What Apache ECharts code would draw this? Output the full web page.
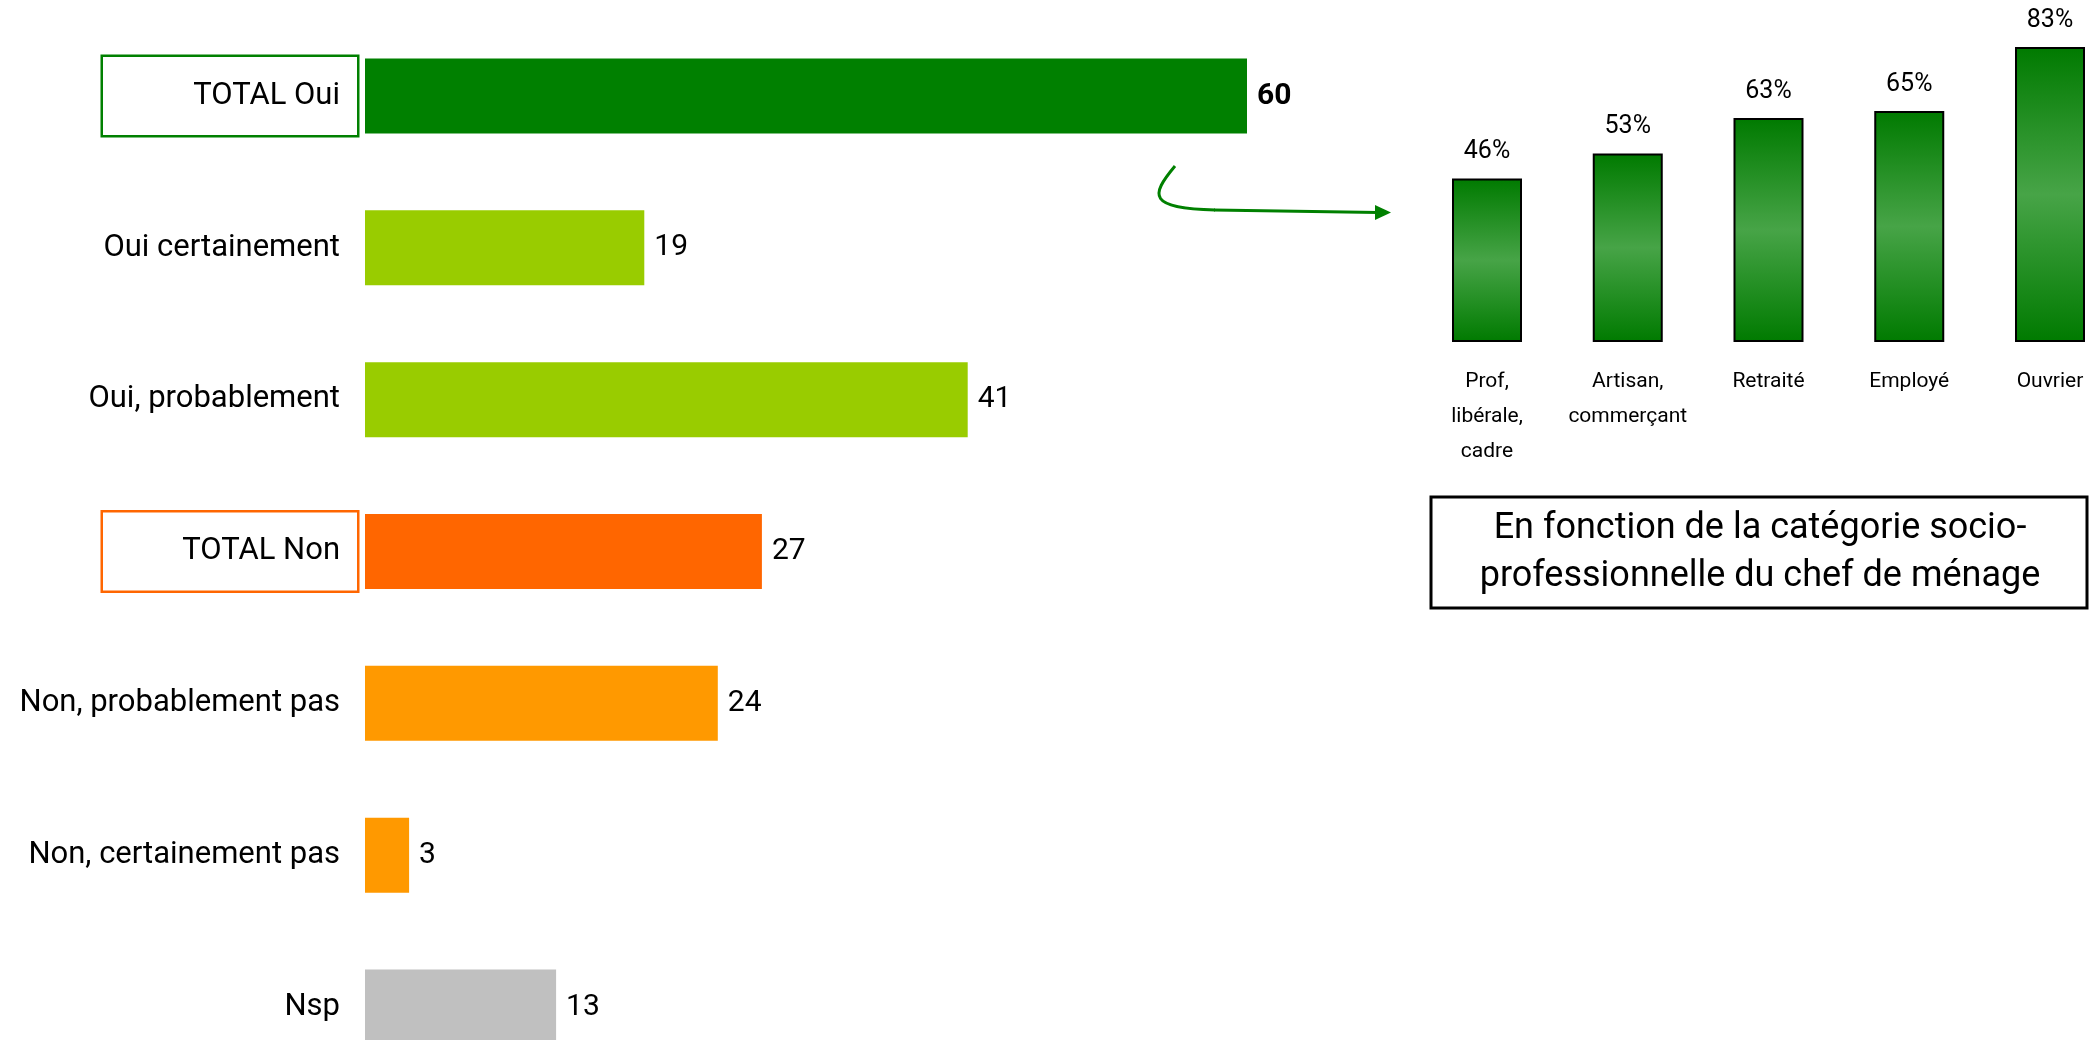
<!DOCTYPE html>
<html>
<head>
<meta charset="utf-8">
<script src="https://cdn.jsdelivr.net/npm/echarts@6/dist/echarts.min.js"></script>
<style>
html,body{margin:0;padding:0;background:#fff;}
#chart{width:2091px;height:1040px;}
</style>
</head>
<body>
<div id="chart"></div>
<script>
// ---- Data ----
var categories = ['TOTAL Oui', 'Oui certainement', 'Oui, probablement', 'TOTAL Non', 'Non, probablement pas', 'Non, certainement pas', 'Nsp'];
var values = [60, 19, 41, 27, 24, 3, 13];
var barColors = ['#008000', '#99CC00', '#99CC00', '#FF6600', '#FF9900', '#FF9900', '#C0C0C0'];

var cspCategories = ['Prof,\nlibérale,\ncadre', 'Artisan,\ncommerçant', 'Retraité', 'Employé', 'Ouvrier'];
var cspValues = [46, 53, 63, 65, 83];

var boxTitle = 'En fonction de la catégorie socio-\nprofessionnelle du chef de ménage';

var FONT = 'Roboto, "Noto Sans", sans-serif';

var chart = echarts.init(document.getElementById('chart'), null, {renderer: 'canvas'});

var leftData = values.map(function (v, i) {
  var item = {value: v, itemStyle: {color: barColors[i]}};
  if (i === 0) item.label = {fontWeight: 'bold'};
  return item;
});

var option = {
  backgroundColor: '#ffffff',
  animation: false,
  grid: [
    {left: 365, top: 96, width: 1470, height: 911},
    {left: 1487, top: 22, width: 563, height: 320}
  ],
  xAxis: [
    {gridIndex: 0, type: 'value', min: 0, max: 100, show: false},
    {gridIndex: 1, type: 'category', data: cspCategories, boundaryGap: false,
      axisLine: {show: false}, axisTick: {show: false},
      axisLabel: {margin: 22, fontSize: 21, lineHeight: 35, color: '#000', fontFamily: FONT, interval: 0}}
  ],
  yAxis: [
    {gridIndex: 0, type: 'category', data: categories, inverse: true, boundaryGap: false,
      axisLine: {show: false}, axisTick: {show: false},
      axisLabel: {
        margin: 8, color: '#000', fontFamily: FONT, fontSize: 31,
        formatter: function (v, i) {
          if (i === 0) return '{oui|' + v + '}';
          if (i === 3) return '{non|' + v + '}';
          return '{n|' + v + '}';
        },
        rich: {
          n: {fontSize: 31, color: '#000', fontFamily: FONT, padding: [0, 17, 0, 0]},
          oui: {fontSize: 31, color: '#000', fontFamily: FONT, width: 237, height: 78, align: 'right',
            padding: [0, 17, 0, 0], borderColor: '#008000', borderWidth: 2.5, backgroundColor: '#fff'},
          non: {fontSize: 31, color: '#000', fontFamily: FONT, width: 237, height: 78, align: 'right',
            padding: [0, 17, 0, 0], borderColor: '#FF6600', borderWidth: 2.5, backgroundColor: '#fff'}
        }
      }},
    {gridIndex: 1, type: 'value', min: 0, max: 90, show: false}
  ],
  series: [
    {
      type: 'bar', xAxisIndex: 0, yAxisIndex: 0,
      data: leftData, barWidth: 75,
      label: {show: true, position: 'right', distance: 10, fontSize: 30, color: '#000', fontFamily: FONT}
    },
    {
      type: 'bar', xAxisIndex: 1, yAxisIndex: 1,
      data: cspValues, barWidth: 70,
      itemStyle: {
        borderColor: '#000', borderWidth: 2,
        color: {
          type: 'linear', x: 0, y: 0, x2: 0, y2: 1,
          colorStops: [
            {offset: 0, color: '#007A00'},
            {offset: 0.5, color: '#47A447'},
            {offset: 1, color: '#007A00'}
          ]
        }
      },
      label: {show: true, position: 'top', distance: 14, fontSize: 25, color: '#000', fontFamily: FONT, formatter: '{c}%'}
    }
  ],
  graphic: [
    {type: 'bezierCurve', shape: {x1: 1175, y1: 166, cpx1: 1150, cpy1: 196, cpx2: 1148, cpy2: 208, x2: 1215, y2: 210},
      style: {fill: 'none', stroke: '#008000', lineWidth: 3}},
    {type: 'line', shape: {x1: 1214, y1: 210, x2: 1378, y2: 212.5},
      style: {stroke: '#008000', lineWidth: 3}},
    {type: 'polygon', shape: {points: [[1375, 205], [1391, 212.5], [1375, 220]]},
      style: {fill: '#008000'}},
    {type: 'rect', shape: {x: 1431, y: 497, width: 656, height: 111},
      style: {fill: '#fff', stroke: '#000', lineWidth: 3}},
    {type: 'text', x: 1760, y: 553,
      style: {text: boxTitle, fill: '#000', fontSize: 36, lineHeight: 48, fontFamily: FONT, align: 'center', verticalAlign: 'middle'}}
  ]
};

chart.setOption(option);
</script>
</body>
</html>
